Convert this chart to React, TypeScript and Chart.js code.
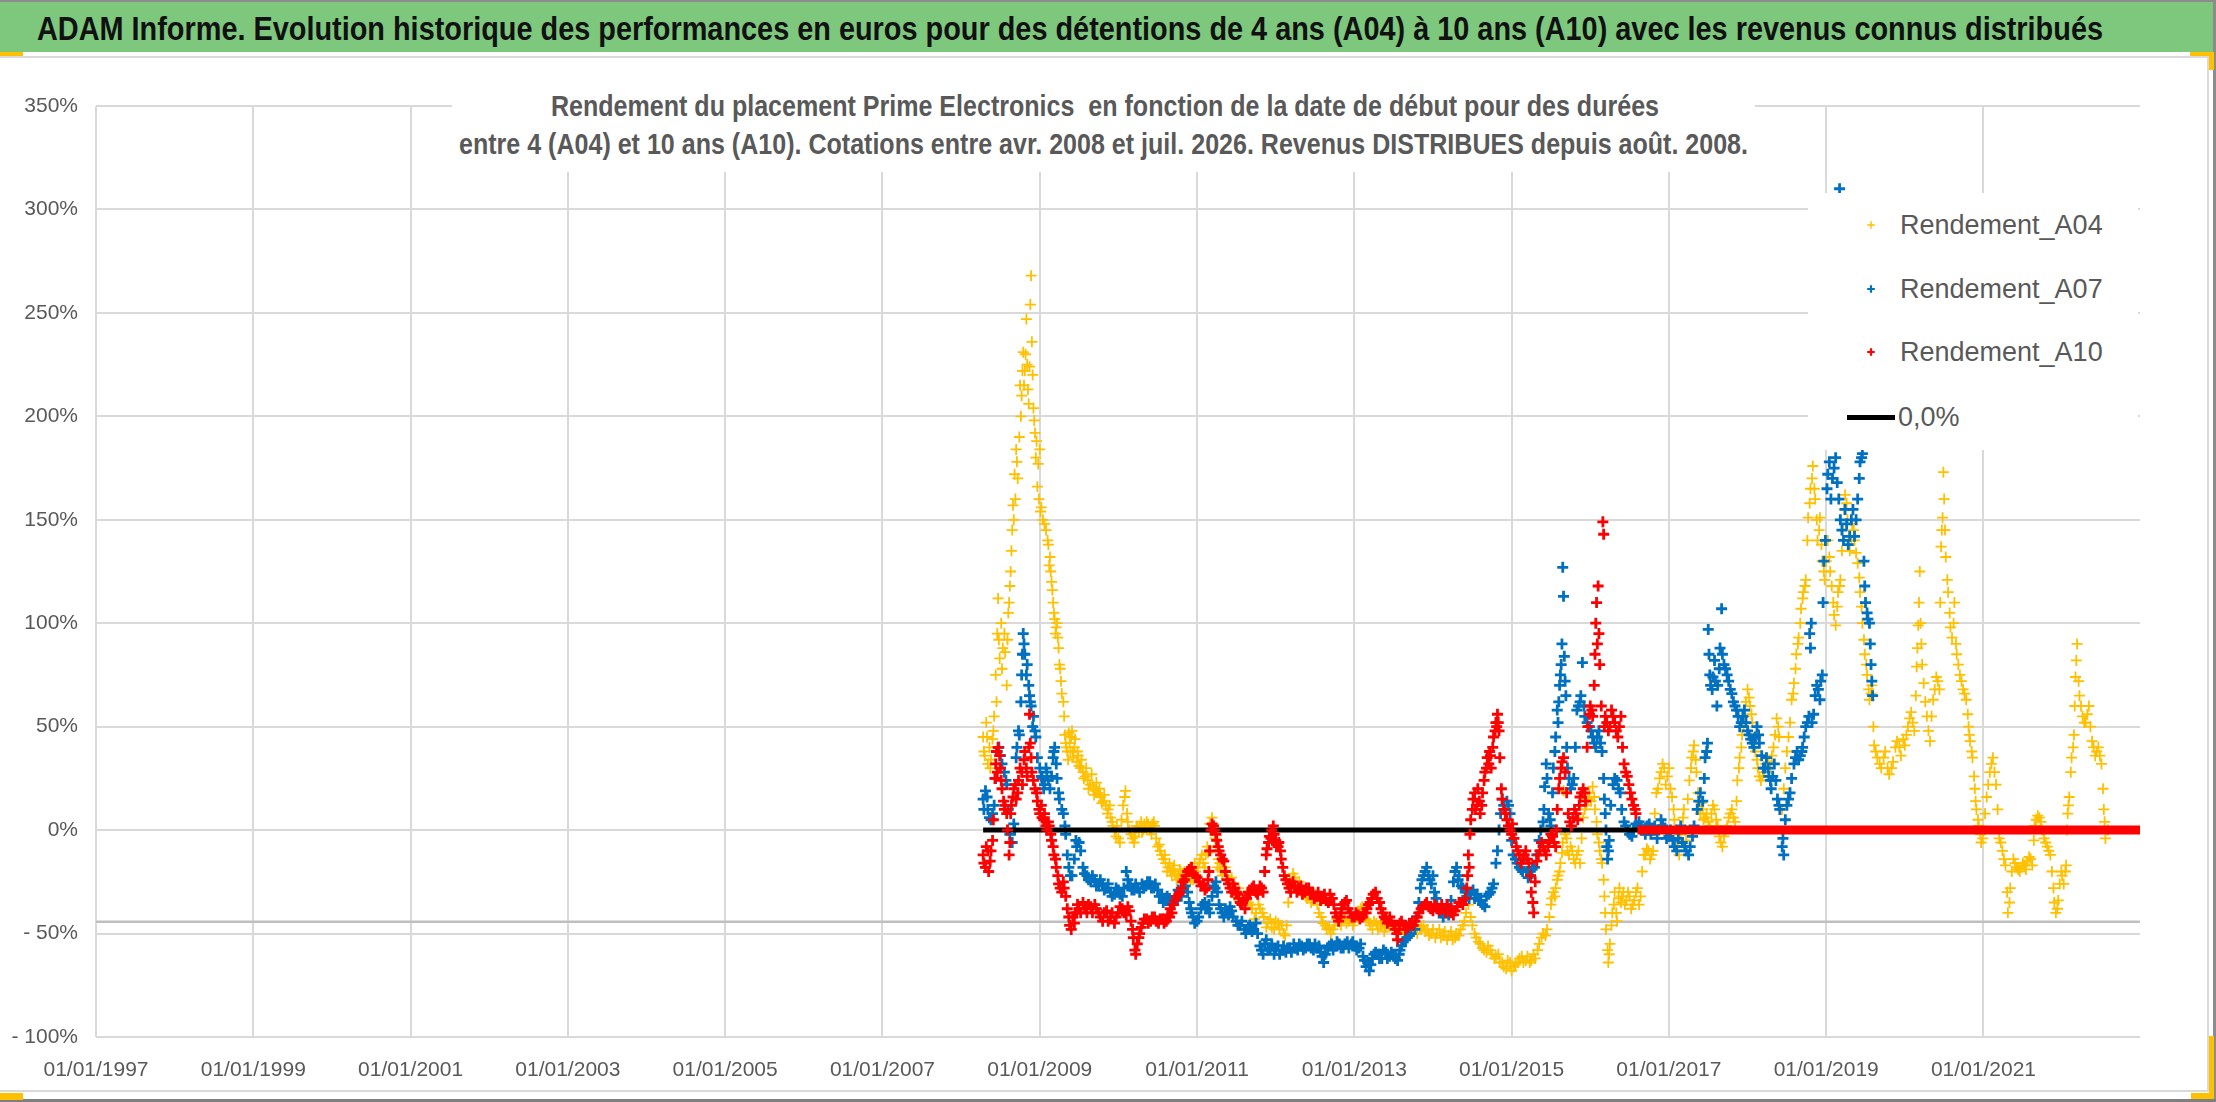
import React, { useEffect, useLayoutEffect, useRef } from 'react';
import { Chart, registerables } from 'chart.js';

Chart.register(...registerables);

// axis
const xTickYears = [1997, 1999, 2001, 2003, 2005, 2007, 2009, 2011, 2013, 2015, 2017, 2019, 2021];
const xMin = 1997;
const xMax = 2022.99;
const yMin = -100;
const yMax = 350;
const yStep = 50;

// [date as decimal year, return %] (centre of each band)
const rendementA04: [number, number][] = [
  [2008.28, 45], [2008.3, 36], [2008.32, 52], [2008.34, 32], [2008.36, 40], [2008.38, 34], [2008.4, 44],
  [2008.42, 55], [2008.44, 75], [2008.46, 95], [2008.47, 112], [2008.49, 83], [2008.51, 100], [2008.53, 88],
  [2008.56, 86], [2008.58, 70], [2008.6, 105], [2008.62, 118], [2008.64, 135], [2008.66, 157], [2008.68, 172],
  [2008.7, 184], [2008.72, 170], [2008.75, 215], [2008.77, 210], [2008.79, 231], [2008.81, 222], [2008.83, 247],
  [2008.85, 213], [2008.87, 224], [2008.88, 254], [2008.89, 268], [2008.9, 236], [2008.92, 204], [2008.94, 192],
  [2008.96, 188], [2008.97, 166], [2008.98, 177], [2009.0, 184], [2009.01, 154], [2009.04, 150], [2009.08, 145],
  [2009.11, 138], [2009.13, 132], [2009.15, 120], [2009.17, 110], [2009.19, 102], [2009.21, 98], [2009.23, 93],
  [2009.25, 80], [2009.27, 72], [2009.3, 62], [2009.32, 46], [2009.34, 40], [2009.36, 34], [2009.38, 42],
  [2009.4, 45], [2009.42, 38], [2009.44, 40], [2009.47, 33], [2009.49, 36], [2009.52, 30], [2009.55, 28],
  [2009.58, 26], [2009.61, 24], [2009.64, 22], [2009.68, 21], [2009.71, 19], [2009.74, 18], [2009.77, 16],
  [2009.81, 14], [2009.84, 12], [2009.87, 10], [2009.9, 6], [2009.93, 2], [2009.97, -3], [2010.0, -4],
  [2010.04, 5], [2010.08, 16], [2010.11, 8], [2010.14, 0], [2010.18, -4], [2010.21, -3], [2010.24, 1],
  [2010.27, 2], [2010.3, -1], [2010.33, 3], [2010.36, 4], [2010.4, 0], [2010.43, 3], [2010.46, 2],
  [2010.5, -8], [2010.53, -10], [2010.57, -14], [2010.6, -16], [2010.63, -18], [2010.66, -20], [2010.69, -19],
  [2010.72, -21], [2010.76, -22], [2010.79, -20], [2010.82, -21], [2010.85, -23], [2010.89, -23], [2010.92, -24],
  [2010.95, -24], [2010.98, -20], [2011.01, -18], [2011.04, -14], [2011.08, -16], [2011.11, -12], [2011.14, -11],
  [2011.17, 0], [2011.19, 6], [2011.21, 2], [2011.24, -8], [2011.27, -14], [2011.3, -19], [2011.34, -20],
  [2011.38, -22], [2011.42, -25], [2011.46, -28], [2011.5, -30], [2011.55, -32], [2011.6, -33], [2011.65, -35],
  [2011.7, -38], [2011.75, -40], [2011.8, -38], [2011.85, -42], [2011.9, -45], [2011.95, -47], [2012.0, -44],
  [2012.05, -48], [2012.1, -50], [2012.14, -46], [2012.18, -24], [2012.22, -21], [2012.26, -26], [2012.3, -25],
  [2012.35, -30], [2012.4, -33], [2012.45, -35], [2012.5, -31], [2012.55, -40], [2012.6, -45], [2012.65, -48],
  [2012.7, -50], [2012.75, -46], [2012.8, -44], [2012.85, -43], [2012.9, -45], [2012.95, -42], [2013.0, -44],
  [2013.05, -40], [2013.1, -37], [2013.15, -43], [2013.2, -46], [2013.25, -44], [2013.3, -48], [2013.35, -45],
  [2013.4, -47], [2013.45, -46], [2013.5, -48], [2013.55, -50], [2013.6, -47], [2013.65, -49], [2013.7, -46],
  [2013.75, -48], [2013.8, -50], [2013.85, -47], [2013.9, -49], [2013.95, -51], [2014.0, -48], [2014.05, -50],
  [2014.1, -52], [2014.15, -49], [2014.2, -51], [2014.25, -53], [2014.3, -50], [2014.35, -48], [2014.4, -44],
  [2014.45, -36], [2014.5, -46], [2014.55, -52], [2014.6, -55], [2014.65, -58], [2014.7, -56], [2014.75, -60],
  [2014.8, -61], [2014.85, -64], [2014.9, -66], [2014.95, -63], [2015.0, -68], [2015.05, -65], [2015.1, -62],
  [2015.15, -64], [2015.2, -61], [2015.25, -63], [2015.3, -62], [2015.35, -55], [2015.4, -50], [2015.45, -48],
  [2015.5, -36], [2015.53, -30], [2015.56, -28], [2015.59, -22], [2015.62, -16], [2015.65, -6], [2015.66, 19],
  [2015.68, -2], [2015.71, -10], [2015.75, -8], [2015.79, -14], [2015.83, -12], [2015.87, -16], [2015.91, 6],
  [2015.95, 12], [2015.99, 18], [2016.03, 21], [2016.06, 10], [2016.09, -2], [2016.12, -10], [2016.15, -16],
  [2016.18, -32], [2016.2, -48], [2016.23, -64], [2016.25, -55], [2016.28, -40], [2016.31, -30], [2016.34, -44],
  [2016.37, -28], [2016.4, -32], [2016.44, -36], [2016.48, -30], [2016.52, -38], [2016.56, -34], [2016.6, -28],
  [2016.64, -32], [2016.68, -12], [2016.72, -9], [2016.76, -14], [2016.8, -10], [2016.84, 18], [2016.88, 25],
  [2016.92, 32], [2016.96, 22], [2017.0, 30], [2017.04, 16], [2017.07, 5], [2017.1, -8], [2017.13, -12],
  [2017.16, 2], [2017.19, 10], [2017.22, -5], [2017.26, 24], [2017.29, 35], [2017.32, 41], [2017.35, 28],
  [2017.38, 10], [2017.41, 13], [2017.44, 5], [2017.48, 8], [2017.52, 2], [2017.56, 12], [2017.6, 5],
  [2017.64, -3], [2017.68, -8], [2017.72, 0], [2017.76, 6], [2017.8, 10], [2017.84, 4], [2017.87, 24],
  [2017.9, 35], [2017.93, 46], [2017.96, 55], [2018.0, 68], [2018.03, 60], [2018.06, 52], [2018.1, 38],
  [2018.13, 30], [2018.17, 24], [2018.21, 28], [2018.25, 35], [2018.29, 30], [2018.33, 40], [2018.37, 54],
  [2018.4, 45], [2018.44, 10], [2018.48, 30], [2018.52, 45], [2018.56, 63], [2018.59, 71], [2018.62, 85],
  [2018.65, 93], [2018.68, 107], [2018.71, 115], [2018.74, 121], [2018.77, 151], [2018.8, 165], [2018.83, 176],
  [2018.86, 160], [2018.89, 140], [2018.92, 151], [2018.95, 130], [2018.98, 121], [2019.02, 140], [2019.05, 125],
  [2019.09, 110], [2019.12, 99], [2019.15, 115], [2019.18, 121], [2019.21, 145], [2019.24, 162], [2019.27, 150],
  [2019.3, 135], [2019.33, 148], [2019.36, 140], [2019.4, 129], [2019.43, 115], [2019.46, 100], [2019.49, 85],
  [2019.52, 75], [2019.55, 63], [2019.58, 70], [2019.61, 41], [2019.65, 35], [2019.7, 30], [2019.75, 38],
  [2019.8, 27], [2019.85, 33], [2019.9, 43], [2019.95, 36], [2020.0, 41], [2020.04, 50], [2020.08, 57],
  [2020.12, 48], [2020.15, 79], [2020.17, 99], [2020.19, 125], [2020.21, 90], [2020.24, 71], [2020.28, 55],
  [2020.32, 43], [2020.36, 63], [2020.4, 74], [2020.44, 68], [2020.46, 137], [2020.48, 151], [2020.49, 173],
  [2020.51, 145], [2020.54, 121], [2020.57, 105], [2020.6, 93], [2020.63, 110], [2020.66, 85], [2020.7, 75],
  [2020.74, 68], [2020.78, 63], [2020.81, 50], [2020.83, 43], [2020.86, 35], [2020.89, 20], [2020.91, 10],
  [2020.94, 2], [2020.97, -6], [2021.0, 0], [2021.04, 16], [2021.08, 28], [2021.12, 35], [2021.16, 22],
  [2021.2, -4], [2021.24, -10], [2021.28, -17], [2021.31, -40], [2021.34, -28], [2021.38, -14], [2021.42, -18],
  [2021.46, -20], [2021.5, -16], [2021.54, -19], [2021.58, -13], [2021.62, -17], [2021.65, 2], [2021.69, 7],
  [2021.73, 4], [2021.77, -4], [2021.81, -8], [2021.85, -12], [2021.89, -28], [2021.92, -40], [2021.95, -34],
  [2021.99, -20], [2022.02, -26], [2022.05, -17], [2022.07, 8], [2022.09, 16], [2022.12, 35], [2022.15, 46],
  [2022.17, 74], [2022.19, 90], [2022.22, 65], [2022.26, 55], [2022.3, 52], [2022.34, 60], [2022.38, 43],
  [2022.42, 36], [2022.46, 40], [2022.5, 32], [2022.53, 10], [2022.55, -4], [2022.58, 0],
];

// other edge of the A04 band
const rendementA04Band: [number, number][] = [
  [2008.29, 38], [2008.33, 45], [2008.37, 30], [2008.41, 48], [2008.45, 62], [2008.48, 92], [2008.52, 78],
  [2008.55, 95], [2008.59, 92], [2008.61, 110], [2008.63, 125], [2008.65, 145], [2008.67, 150], [2008.69, 160],
  [2008.71, 178], [2008.74, 190], [2008.76, 200], [2008.78, 222], [2008.8, 215], [2008.82, 230], [2008.84, 225],
  [2008.86, 206], [2008.91, 220], [2008.93, 198], [2008.95, 180], [2008.99, 160], [2009.02, 156], [2009.06, 148],
  [2009.1, 140], [2009.12, 128], [2009.14, 125], [2009.16, 116], [2009.18, 105], [2009.2, 95], [2009.22, 100],
  [2009.24, 88], [2009.26, 78], [2009.28, 66], [2009.31, 55], [2009.33, 42], [2009.35, 38], [2009.37, 47],
  [2009.39, 38], [2009.41, 48], [2009.43, 35], [2009.45, 44], [2009.48, 38], [2009.5, 31], [2009.53, 34],
  [2009.56, 25], [2009.59, 30], [2009.62, 20], [2009.66, 27], [2009.69, 17], [2009.72, 23], [2009.76, 20],
  [2009.79, 13], [2009.82, 17], [2009.86, 8], [2009.89, 12], [2009.92, 4], [2009.95, 0], [2009.98, 2],
  [2010.02, -6], [2010.06, 12], [2010.09, 19], [2010.12, 4], [2010.16, -2], [2010.2, -6], [2010.23, 2],
  [2010.26, -1], [2010.29, 4], [2010.32, 0], [2010.35, 1], [2010.38, 3], [2010.42, -2], [2010.45, 4],
  [2010.48, -4], [2010.52, -7], [2010.55, -12], [2010.59, -12], [2010.62, -20], [2010.65, -16], [2010.68, -22],
  [2010.71, -17], [2010.74, -24], [2010.78, -19], [2010.81, -24], [2010.84, -20], [2010.87, -25], [2010.91, -21],
  [2010.94, -22], [2010.97, -16], [2011.0, -22], [2011.03, -16], [2011.06, -12], [2011.1, -18], [2011.13, -8],
  [2011.16, 3], [2011.2, 3], [2011.23, -4], [2011.26, -18], [2011.29, -16], [2011.32, -22], [2011.36, -18],
  [2011.4, -26], [2011.44, -23], [2011.48, -32], [2011.53, -28], [2011.58, -36], [2011.63, -31], [2011.68, -36],
  [2011.73, -43], [2011.78, -36], [2011.83, -40], [2011.88, -47], [2011.93, -43], [2011.98, -48], [2012.03, -45],
  [2012.08, -46], [2012.12, -51], [2012.16, -35], [2012.2, -27], [2012.24, -23], [2012.28, -28], [2012.33, -27],
  [2012.38, -32], [2012.43, -30], [2012.48, -34], [2012.53, -36], [2012.58, -42], [2012.63, -46], [2012.68, -47],
  [2012.73, -48], [2012.78, -43], [2012.83, -46], [2012.88, -42], [2012.93, -44], [2012.98, -46], [2013.03, -42],
  [2013.08, -38], [2013.13, -40], [2013.18, -44], [2013.23, -48], [2013.28, -45], [2013.33, -46], [2013.38, -49],
  [2013.43, -44], [2013.48, -46], [2013.53, -47], [2013.58, -45], [2013.63, -50], [2013.68, -48], [2013.73, -50],
  [2013.78, -46], [2013.83, -48], [2013.88, -46], [2013.93, -48], [2013.98, -50], [2014.03, -52], [2014.08, -48],
  [2014.13, -51], [2014.18, -53], [2014.23, -49], [2014.28, -52], [2014.33, -51], [2014.38, -46], [2014.42, -40],
  [2014.48, -42], [2014.53, -50], [2014.58, -54], [2014.63, -57], [2014.68, -59], [2014.73, -58], [2014.78, -62],
  [2014.83, -60], [2014.88, -64], [2014.93, -67], [2014.98, -64], [2015.03, -66], [2015.08, -64], [2015.13, -61],
  [2015.18, -63], [2015.23, -64], [2015.28, -60], [2015.33, -58], [2015.38, -52], [2015.43, -51], [2015.48, -42],
  [2015.51, -33], [2015.55, -32], [2015.58, -24], [2015.61, -20], [2015.64, -11], [2015.7, -4], [2015.73, -12],
  [2015.77, -10], [2015.81, -16], [2015.85, -10], [2015.89, -4], [2015.93, 10], [2015.97, 15], [2016.01, 14],
  [2016.05, 16], [2016.08, 4], [2016.11, -6], [2016.14, -14], [2016.17, -24], [2016.19, -40], [2016.22, -58],
  [2016.24, -60], [2016.27, -46], [2016.3, -36], [2016.33, -40], [2016.36, -33], [2016.39, -35], [2016.42, -30],
  [2016.46, -34], [2016.5, -32], [2016.54, -36], [2016.58, -30], [2016.62, -36], [2016.66, -20], [2016.7, -12],
  [2016.74, -10], [2016.78, -12], [2016.82, 8], [2016.86, 20], [2016.9, 28], [2016.94, 30], [2016.98, 26],
  [2017.02, 20], [2017.06, 10], [2017.09, 0], [2017.12, -5], [2017.15, -2], [2017.18, 6], [2017.21, 0],
  [2017.24, 15], [2017.28, 30], [2017.31, 38], [2017.34, 34], [2017.37, 18], [2017.4, 8], [2017.43, 10],
  [2017.46, 6], [2017.5, 4], [2017.54, 8], [2017.58, 10], [2017.62, 2], [2017.66, -6], [2017.7, -3],
  [2017.74, 2], [2017.78, 8], [2017.82, 6], [2017.86, 14], [2017.89, 30], [2017.92, 40], [2017.95, 50],
  [2017.98, 62], [2018.02, 64], [2018.05, 56], [2018.08, 45], [2018.12, 34], [2018.15, 26], [2018.19, 26],
  [2018.23, 32], [2018.27, 33], [2018.31, 36], [2018.35, 46], [2018.39, 50], [2018.46, 20], [2018.5, 38],
  [2018.54, 52], [2018.58, 66], [2018.61, 78], [2018.64, 90], [2018.67, 100], [2018.7, 112], [2018.73, 118],
  [2018.76, 140], [2018.79, 158], [2018.82, 170], [2018.85, 165], [2018.88, 150], [2018.91, 145], [2018.94, 138],
  [2018.97, 125], [2019.0, 130], [2019.04, 132], [2019.07, 118], [2019.1, 104], [2019.14, 108], [2019.17, 118],
  [2019.2, 135], [2019.23, 155], [2019.26, 158], [2019.29, 142], [2019.32, 140], [2019.35, 145], [2019.38, 134],
  [2019.42, 122], [2019.45, 108], [2019.48, 92], [2019.51, 80], [2019.54, 68], [2019.57, 66], [2019.6, 50],
  [2019.63, 38], [2019.68, 32], [2019.73, 35], [2019.78, 30], [2019.83, 30], [2019.88, 40], [2019.93, 40],
  [2019.98, 44], [2020.02, 46], [2020.06, 54], [2020.1, 52], [2020.14, 65], [2020.16, 88], [2020.18, 110],
  [2020.2, 100], [2020.22, 80], [2020.26, 62], [2020.3, 48], [2020.34, 55], [2020.38, 68], [2020.42, 72],
  [2020.45, 110], [2020.47, 145], [2020.5, 160], [2020.52, 132], [2020.55, 115], [2020.58, 98], [2020.62, 100],
  [2020.65, 90], [2020.68, 80], [2020.72, 72], [2020.76, 66], [2020.8, 56], [2020.82, 46], [2020.85, 38],
  [2020.88, 26], [2020.9, 14], [2020.93, 5], [2020.96, -2], [2020.99, -4], [2021.02, 8], [2021.06, 22],
  [2021.1, 32], [2021.14, 28], [2021.18, 10], [2021.22, -6], [2021.26, -14], [2021.3, -30], [2021.33, -35],
  [2021.36, -20], [2021.4, -16], [2021.44, -19], [2021.48, -18], [2021.52, -17], [2021.56, -15], [2021.6, -14],
  [2021.64, -5], [2021.67, 5], [2021.71, 6], [2021.75, 0], [2021.79, -6], [2021.83, -10], [2021.87, -20],
  [2021.9, -35], [2021.94, -38], [2021.97, -26], [2022.0, -22], [2022.04, -20], [2022.06, 0], [2022.08, 12],
  [2022.11, 28], [2022.14, 40], [2022.16, 60], [2022.18, 82], [2022.21, 72], [2022.24, 60], [2022.28, 52],
  [2022.32, 56], [2022.36, 50], [2022.4, 40], [2022.44, 38], [2022.48, 36], [2022.52, 20], [2022.54, 4],
];

const rendementA07: [number, number][] = [
  [2008.28, 15], [2008.31, 19], [2008.34, 10], [2008.38, 5], [2008.42, 12], [2008.46, 38], [2008.5, 36],
  [2008.55, 28], [2008.58, 22], [2008.62, -2], [2008.65, -6], [2008.68, 0], [2008.71, 40], [2008.74, 46],
  [2008.77, 75], [2008.79, 95], [2008.81, 85], [2008.84, 80], [2008.87, 65], [2008.89, 60], [2008.92, 55],
  [2008.95, 45], [2009.0, 30], [2009.03, 25], [2009.06, 22], [2009.09, 28], [2009.13, 20], [2009.17, 35],
  [2009.19, 40], [2009.22, 25], [2009.25, 15], [2009.3, 8], [2009.33, -2], [2009.37, -18], [2009.41, -22],
  [2009.47, -8], [2009.5, -6], [2009.55, -18], [2009.6, -22], [2009.65, -25], [2009.7, -24], [2009.75, -27],
  [2009.8, -26], [2009.85, -28], [2009.9, -30], [2009.95, -31], [2010.0, -29], [2010.05, -32], [2010.1, -20],
  [2010.15, -27], [2010.2, -29], [2010.25, -28], [2010.3, -26], [2010.35, -27], [2010.4, -25], [2010.45, -28],
  [2010.5, -29], [2010.55, -31], [2010.6, -34], [2010.65, -33], [2010.7, -35], [2010.74, -32], [2010.78, -30],
  [2010.83, -28], [2010.88, -30], [2010.92, -38], [2010.95, -42], [2011.0, -44], [2011.05, -38], [2011.1, -35],
  [2011.13, -38], [2011.16, -40], [2011.21, -27], [2011.24, -25], [2011.28, -36], [2011.32, -40], [2011.36, -38],
  [2011.4, -41], [2011.44, -39], [2011.5, -44], [2011.55, -46], [2011.6, -48], [2011.65, -47], [2011.7, -49],
  [2011.75, -45], [2011.8, -56], [2011.84, -60], [2011.88, -53], [2011.93, -57], [2011.98, -60], [2012.03, -56],
  [2012.08, -58], [2012.13, -59], [2012.18, -57], [2012.23, -55], [2012.28, -58], [2012.33, -56], [2012.38, -57],
  [2012.43, -55], [2012.48, -58], [2012.53, -57], [2012.57, -59], [2012.61, -64], [2012.66, -57], [2012.71, -55],
  [2012.76, -56], [2012.81, -55], [2012.86, -57], [2012.91, -54], [2012.96, -55], [2013.01, -56], [2013.06, -57],
  [2013.11, -61], [2013.15, -66], [2013.19, -68], [2013.23, -62], [2013.27, -59], [2013.3, -60], [2013.35, -62],
  [2013.4, -59], [2013.45, -61], [2013.5, -60], [2013.55, -63], [2013.58, -58], [2013.62, -54], [2013.67, -52],
  [2013.72, -50], [2013.77, -48], [2013.82, -35], [2013.86, -24], [2013.9, -20], [2013.94, -22], [2013.98, -26],
  [2014.02, -30], [2014.05, -36], [2014.1, -40], [2014.15, -38], [2014.2, -41], [2014.23, -34], [2014.26, -25],
  [2014.3, -18], [2014.33, -22], [2014.38, -28], [2014.43, -32], [2014.48, -30], [2014.53, -33], [2014.58, -34],
  [2014.63, -36], [2014.68, -32], [2014.73, -30], [2014.77, -26], [2014.82, -10], [2014.86, 8], [2014.9, 12],
  [2014.94, 14], [2014.98, 8], [2015.02, -12], [2015.07, -16], [2015.12, -19], [2015.16, -14], [2015.19, -20],
  [2015.24, -22], [2015.29, -18], [2015.35, -5], [2015.4, 4], [2015.42, 21], [2015.44, 32], [2015.47, 8],
  [2015.5, 2], [2015.53, 30], [2015.56, 45], [2015.59, 52], [2015.61, 70], [2015.63, 80], [2015.65, 127],
  [2015.66, 113], [2015.67, 84], [2015.69, 65], [2015.71, 30], [2015.75, 20], [2015.79, 25], [2015.83, 58],
  [2015.87, 62], [2015.9, 81], [2015.93, 55], [2015.99, 50], [2016.03, 45], [2016.07, 40], [2016.11, 48],
  [2016.15, 38], [2016.18, 15], [2016.2, 0], [2016.22, -14], [2016.24, -5], [2016.29, 22], [2016.34, 24],
  [2016.38, 18], [2016.43, 4], [2016.48, 0], [2016.53, -3], [2016.58, 3], [2016.65, 2], [2016.7, -2],
  [2016.75, 3], [2016.8, 0], [2016.85, -4], [2016.9, 5], [2016.95, 1], [2017.0, -3], [2017.05, -5],
  [2017.1, -10], [2017.15, 2], [2017.2, -8], [2017.25, -12], [2017.3, -3], [2017.36, 10], [2017.4, 18],
  [2017.43, 14], [2017.46, 35], [2017.49, 42], [2017.5, 97], [2017.52, 75], [2017.55, 68], [2017.58, 82],
  [2017.61, 60], [2017.64, 78], [2017.67, 107], [2017.68, 85], [2017.72, 78], [2017.76, 72], [2017.8, 66],
  [2017.84, 60], [2017.88, 55], [2017.92, 52], [2017.96, 58], [2018.0, 48], [2018.04, 44], [2018.08, 40],
  [2018.12, 50], [2018.15, 42], [2018.2, 30], [2018.24, 35], [2018.27, 26], [2018.3, 20], [2018.34, 32],
  [2018.38, 15], [2018.41, 10], [2018.44, -8], [2018.46, -12], [2018.5, 12], [2018.54, 18], [2018.59, 32],
  [2018.63, 38], [2018.67, 36], [2018.7, 40], [2018.74, 50], [2018.78, 55], [2018.79, 95], [2018.81, 100],
  [2018.82, 52], [2018.88, 70], [2018.92, 63], [2018.95, 75], [2018.97, 130], [2019.01, 165], [2019.04, 178],
  [2019.08, 170], [2019.12, 180], [2019.16, 160], [2019.17, 310], [2019.2, 145], [2019.24, 155], [2019.28, 138],
  [2019.32, 150], [2019.36, 142], [2019.4, 160], [2019.43, 178], [2019.46, 182], [2019.49, 118], [2019.52, 105],
  [2019.55, 100], [2019.57, 80], [2019.59, 65],
];

// other edge of the A07 band
const rendementA07Band: [number, number][] = [
  [2008.29, 10], [2008.33, 16], [2008.36, 6], [2008.4, 8], [2008.44, 25], [2008.48, 40], [2008.52, 32],
  [2008.57, 24], [2008.6, 10], [2008.63, -6], [2008.67, 3], [2008.7, 35], [2008.73, 48], [2008.76, 62],
  [2008.78, 85], [2008.8, 90], [2008.83, 75], [2008.86, 70], [2008.88, 62], [2008.91, 50], [2008.94, 48],
  [2008.97, 35], [2009.02, 26], [2009.05, 20], [2009.08, 30], [2009.11, 24], [2009.15, 26], [2009.18, 38],
  [2009.21, 32], [2009.24, 18], [2009.28, 10], [2009.32, 2], [2009.35, -12], [2009.39, -22], [2009.44, -14],
  [2009.46, -5], [2009.52, -10], [2009.57, -21], [2009.62, -24], [2009.67, -22], [2009.72, -27], [2009.77, -24],
  [2009.82, -29], [2009.87, -26], [2009.92, -32], [2009.97, -28], [2010.02, -31], [2010.07, -28], [2010.12, -24],
  [2010.17, -29], [2010.22, -26], [2010.27, -30], [2010.32, -28], [2010.37, -25], [2010.42, -28], [2010.47, -26],
  [2010.52, -32], [2010.57, -35], [2010.62, -32], [2010.67, -36], [2010.72, -33], [2010.76, -29], [2010.8, -32],
  [2010.85, -27], [2010.9, -35], [2010.93, -40], [2010.97, -45], [2011.02, -42], [2011.07, -36], [2011.11, -38],
  [2011.15, -36], [2011.19, -32], [2011.23, -28], [2011.26, -30], [2011.3, -38], [2011.34, -42], [2011.38, -40],
  [2011.42, -37], [2011.46, -42], [2011.52, -46], [2011.57, -44], [2011.62, -50], [2011.67, -46], [2011.72, -48],
  [2011.77, -50], [2011.82, -58], [2011.86, -55], [2011.9, -58], [2011.95, -55], [2012.0, -58], [2012.05, -60],
  [2012.1, -56], [2012.15, -57], [2012.2, -59], [2012.25, -57], [2012.3, -55], [2012.35, -58], [2012.4, -55],
  [2012.45, -57], [2012.5, -55], [2012.55, -56], [2012.59, -61], [2012.63, -60], [2012.68, -56], [2012.73, -58],
  [2012.78, -54], [2012.83, -57], [2012.88, -55], [2012.93, -57], [2012.98, -54], [2013.03, -58], [2013.08, -55],
  [2013.13, -63], [2013.17, -64], [2013.21, -65], [2013.25, -60], [2013.32, -62], [2013.37, -58], [2013.42, -62],
  [2013.47, -59], [2013.52, -62], [2013.57, -60], [2013.6, -56], [2013.65, -53], [2013.7, -51], [2013.74, -46],
  [2013.79, -42], [2013.84, -28], [2013.88, -22], [2013.92, -18], [2013.96, -24], [2014.0, -22], [2014.04, -33],
  [2014.08, -38], [2014.13, -42], [2014.18, -37], [2014.22, -38], [2014.28, -20], [2014.32, -24], [2014.36, -27],
  [2014.41, -30], [2014.46, -33], [2014.51, -29], [2014.56, -31], [2014.61, -34], [2014.66, -37], [2014.71, -31],
  [2014.75, -28], [2014.8, -16], [2014.84, 0], [2014.88, 15], [2014.92, 10], [2014.96, 12], [2015.0, -5],
  [2015.05, -14], [2015.1, -18], [2015.14, -20], [2015.21, -23], [2015.26, -19], [2015.32, -12], [2015.37, 0],
  [2015.41, 10], [2015.45, 25], [2015.49, 5], [2015.52, 18], [2015.55, 38], [2015.58, 58], [2015.6, 62],
  [2015.62, 75], [2015.64, 90], [2015.68, 72], [2015.7, 40], [2015.73, 25], [2015.77, 22], [2015.81, 40],
  [2015.85, 60], [2015.88, 65], [2015.92, 60], [2015.96, 52], [2016.01, 48], [2016.05, 42], [2016.09, 45],
  [2016.13, 42], [2016.17, 25], [2016.19, 8], [2016.21, -8], [2016.23, -10], [2016.26, 12], [2016.31, 25],
  [2016.36, 20], [2016.4, 10], [2016.45, 2], [2016.5, -2], [2016.55, 0], [2016.62, 4], [2016.67, 0],
  [2016.72, 2], [2016.77, -2], [2016.82, 2], [2016.87, 0], [2016.92, 2], [2016.97, -4], [2017.02, 0],
  [2017.07, -8], [2017.12, -4], [2017.17, -6], [2017.22, -10], [2017.27, -8], [2017.32, 2], [2017.38, 14],
  [2017.45, 25], [2017.48, 38], [2017.51, 85], [2017.53, 70], [2017.56, 74], [2017.59, 72], [2017.62, 70],
  [2017.65, 88], [2017.7, 80], [2017.74, 75], [2017.78, 68], [2017.82, 62], [2017.86, 58], [2017.9, 50],
  [2017.94, 55], [2017.98, 52], [2018.02, 46], [2018.06, 42], [2018.1, 45], [2018.14, 46], [2018.18, 36],
  [2018.22, 30], [2018.26, 30], [2018.29, 24], [2018.32, 26], [2018.36, 24], [2018.4, 12], [2018.45, -4],
  [2018.48, 5], [2018.52, 15], [2018.56, 25], [2018.61, 35], [2018.65, 34], [2018.69, 38], [2018.72, 45],
  [2018.76, 52], [2018.8, 88], [2018.84, 56], [2018.86, 65], [2018.9, 68], [2018.93, 72], [2018.96, 110],
  [2018.99, 140], [2019.02, 172], [2019.06, 160], [2019.1, 175], [2019.14, 168], [2019.18, 150], [2019.22, 140],
  [2019.26, 148], [2019.3, 142], [2019.34, 155], [2019.38, 150], [2019.42, 170], [2019.45, 180], [2019.48, 130],
  [2019.5, 110], [2019.53, 102], [2019.56, 90], [2019.58, 72],
];

const rendementA10: [number, number][] = [
  [2008.28, -12], [2008.31, -18], [2008.34, -10], [2008.37, -15], [2008.4, -5], [2008.43, 25], [2008.45, 38],
  [2008.47, 40], [2008.5, 30], [2008.52, 20], [2008.55, 10], [2008.58, 8], [2008.61, -12], [2008.64, 12],
  [2008.67, 20], [2008.7, 15], [2008.73, 24], [2008.77, 28], [2008.8, 34], [2008.83, 30], [2008.86, 40],
  [2008.87, 56], [2008.89, 35], [2008.92, 24], [2008.96, 18], [2008.99, 10], [2009.02, 12], [2009.05, 5],
  [2009.08, 2], [2009.11, 4], [2009.14, -2], [2009.17, -8], [2009.2, -14], [2009.23, -22], [2009.26, -28],
  [2009.3, -25], [2009.33, -32], [2009.37, -42], [2009.4, -48], [2009.44, -45], [2009.47, -40], [2009.5, -38],
  [2009.55, -35], [2009.6, -40], [2009.65, -37], [2009.7, -36], [2009.75, -40], [2009.8, -44], [2009.85, -39],
  [2009.9, -42], [2009.95, -45], [2010.0, -40], [2010.05, -38], [2010.1, -41], [2010.14, -39], [2010.18, -48],
  [2010.21, -58], [2010.24, -55], [2010.27, -50], [2010.31, -45], [2010.36, -43], [2010.41, -44], [2010.46, -42],
  [2010.51, -45], [2010.56, -43], [2010.61, -44], [2010.65, -42], [2010.68, -40], [2010.72, -34], [2010.77, -31],
  [2010.8, -28], [2010.84, -24], [2010.88, -20], [2010.93, -18], [2010.98, -22], [2011.03, -25], [2011.08, -26],
  [2011.12, -28], [2011.15, -20], [2011.18, 0], [2011.21, 2], [2011.24, -2], [2011.27, -8], [2011.3, -12],
  [2011.34, -15], [2011.38, -24], [2011.42, -28], [2011.46, -26], [2011.5, -30], [2011.53, -33], [2011.57, -36],
  [2011.61, -38], [2011.65, -30], [2011.7, -28], [2011.75, -30], [2011.8, -27], [2011.84, -30], [2011.88, -12],
  [2011.91, -6], [2011.94, -4], [2011.97, 2], [2012.0, -5], [2012.03, -8], [2012.06, -10], [2012.09, -18],
  [2012.13, -24], [2012.17, -28], [2012.22, -25], [2012.27, -30], [2012.32, -27], [2012.37, -30], [2012.42, -28],
  [2012.47, -30], [2012.52, -32], [2012.57, -34], [2012.62, -31], [2012.67, -35], [2012.72, -33], [2012.76, -40],
  [2012.8, -44], [2012.83, -40], [2012.86, -36], [2012.9, -34], [2012.95, -40], [2013.0, -42], [2013.05, -41],
  [2013.1, -42], [2013.15, -40], [2013.18, -36], [2013.22, -33], [2013.27, -30], [2013.32, -35], [2013.36, -40],
  [2013.4, -43], [2013.45, -42], [2013.5, -46], [2013.55, -53], [2013.58, -45], [2013.63, -46], [2013.68, -47],
  [2013.73, -45], [2013.77, -44], [2013.82, -40], [2013.87, -37], [2013.92, -35], [2013.97, -38], [2014.02, -36],
  [2014.06, -38], [2014.11, -36], [2014.16, -40], [2014.21, -38], [2014.26, -41], [2014.31, -37], [2014.36, -35],
  [2014.41, -33], [2014.44, -22], [2014.46, -18], [2014.48, 5], [2014.51, 15], [2014.54, 10], [2014.57, 20],
  [2014.6, 8], [2014.63, 18], [2014.66, 28], [2014.69, 35], [2014.72, 38], [2014.74, 30], [2014.77, 45],
  [2014.8, 52], [2014.82, 56], [2014.84, 48], [2014.87, 20], [2014.9, 10], [2014.94, 5], [2014.98, 0],
  [2015.01, 3], [2015.06, -8], [2015.1, -12], [2015.14, -14], [2015.18, -10], [2015.22, -16], [2015.25, -30],
  [2015.28, -40], [2015.32, -15], [2015.36, -10], [2015.4, -8], [2015.44, -12], [2015.48, -5], [2015.52, -3],
  [2015.56, -8], [2015.58, 10], [2015.61, 25], [2015.64, 33], [2015.68, 28], [2015.72, 8], [2015.76, 2],
  [2015.8, 10], [2015.84, 5], [2015.87, 16], [2015.91, 20], [2015.94, 14], [2015.97, 50], [2016.0, 60],
  [2016.03, 55], [2016.06, 85], [2016.08, 110], [2016.1, 118], [2016.11, 95], [2016.16, 149], [2016.17, 143],
  [2016.19, 55], [2016.23, 48], [2016.27, 58], [2016.31, 52], [2016.35, 45], [2016.39, 55], [2016.43, 32],
  [2016.47, 26], [2016.51, 18], [2016.55, 12], [2016.58, 8],
];

// other edge of the A10 band
const rendementA10Band: [number, number][] = [
  [2008.29, -16], [2008.32, -8], [2008.35, -20], [2008.38, -10], [2008.41, 5], [2008.44, 32], [2008.46, 28],
  [2008.49, 36], [2008.51, 24], [2008.54, 14], [2008.56, 12], [2008.59, 0], [2008.62, -6], [2008.63, 8],
  [2008.66, 16], [2008.69, 22], [2008.72, 18], [2008.75, 30], [2008.78, 22], [2008.81, 38], [2008.84, 26],
  [2008.88, 42], [2008.9, 28], [2008.94, 20], [2008.97, 14], [2009.0, 8], [2009.03, 6], [2009.06, 8],
  [2009.09, 0], [2009.12, 2], [2009.15, -5], [2009.18, -12], [2009.21, -18], [2009.24, -26], [2009.28, -30],
  [2009.31, -28], [2009.35, -38], [2009.38, -46], [2009.42, -42], [2009.45, -40], [2009.48, -36], [2009.52, -40],
  [2009.57, -38], [2009.62, -36], [2009.67, -40], [2009.72, -38], [2009.77, -42], [2009.82, -40], [2009.87, -44],
  [2009.92, -40], [2009.97, -42], [2010.02, -37], [2010.07, -40], [2010.12, -37], [2010.16, -44], [2010.19, -52],
  [2010.22, -60], [2010.26, -52], [2010.29, -47], [2010.33, -43], [2010.38, -45], [2010.43, -42], [2010.48, -44],
  [2010.53, -43], [2010.58, -45], [2010.63, -41], [2010.66, -38], [2010.7, -36], [2010.74, -32], [2010.78, -30],
  [2010.82, -25], [2010.86, -22], [2010.9, -19], [2010.95, -21], [2011.0, -23], [2011.05, -27], [2011.1, -29],
  [2011.14, -24], [2011.16, -10], [2011.19, 3], [2011.22, 0], [2011.25, -5], [2011.28, -10], [2011.32, -14],
  [2011.36, -20], [2011.4, -26], [2011.44, -30], [2011.48, -28], [2011.52, -31], [2011.55, -35], [2011.59, -34],
  [2011.63, -33], [2011.67, -31], [2011.72, -27], [2011.77, -31], [2011.82, -28], [2011.86, -20], [2011.89, -9],
  [2011.92, -3], [2011.95, 0], [2011.98, -2], [2012.01, -7], [2012.04, -6], [2012.07, -14], [2012.11, -22],
  [2012.15, -26], [2012.19, -30], [2012.24, -27], [2012.29, -28], [2012.34, -31], [2012.39, -28], [2012.44, -31],
  [2012.49, -33], [2012.54, -30], [2012.59, -33], [2012.64, -34], [2012.69, -31], [2012.74, -36], [2012.78, -42],
  [2012.82, -42], [2012.84, -38], [2012.88, -35], [2012.92, -38], [2012.97, -42], [2013.02, -40], [2013.07, -43],
  [2013.12, -40], [2013.16, -38], [2013.2, -35], [2013.24, -31], [2013.29, -33], [2013.34, -38], [2013.38, -42],
  [2013.42, -45], [2013.47, -44], [2013.52, -48], [2013.54, -50], [2013.57, -48], [2013.6, -44], [2013.65, -48],
  [2013.7, -45], [2013.75, -46], [2013.8, -42], [2013.85, -38], [2013.9, -36], [2013.95, -37], [2014.0, -39],
  [2014.04, -37], [2014.08, -39], [2014.13, -38], [2014.18, -36], [2014.23, -40], [2014.28, -39], [2014.33, -35],
  [2014.38, -36], [2014.43, -28], [2014.45, -12], [2014.47, -2], [2014.5, 10], [2014.53, 18], [2014.56, 12],
  [2014.59, 14], [2014.62, 12], [2014.65, 24], [2014.68, 30], [2014.71, 32], [2014.73, 36], [2014.76, 40],
  [2014.79, 48], [2014.81, 50], [2014.83, 52], [2014.85, 35], [2014.88, 15], [2014.92, 8], [2014.96, 2],
  [2015.0, -2], [2015.03, -4], [2015.08, -10], [2015.12, -16], [2015.16, -12], [2015.2, -14], [2015.24, -22],
  [2015.27, -35], [2015.3, -25], [2015.34, -12], [2015.38, -6], [2015.42, -10], [2015.46, -8], [2015.5, -2],
  [2015.54, -6], [2015.57, 0], [2015.6, 20], [2015.63, 30], [2015.66, 35], [2015.7, 18], [2015.74, 4],
  [2015.78, 6], [2015.82, 8], [2015.86, 12], [2015.89, 18], [2015.93, 18], [2015.96, 40], [2015.99, 56],
  [2016.02, 58], [2016.05, 70], [2016.07, 100], [2016.09, 90], [2016.12, 80], [2016.14, 60], [2016.18, 50],
  [2016.21, 52], [2016.25, 50], [2016.29, 55], [2016.33, 48], [2016.37, 50], [2016.41, 40], [2016.45, 28],
  [2016.49, 22], [2016.53, 15], [2016.57, 10],
];

// A10 sits flat on 0% from mid-2016 to the last date
const rendementA10Flat: [number, number][] = [[2016.6, 0], [2023.0, 0]];
const zeroLevel: [number, number][] = [[2008.28, 0], [2023.0, 0]];
// grey horizontal rule that crosses the plot in the screenshot
const greyRule: [number, number][] = [[1997, -44.3], [2022.99, -44.3]];

const legendItems = [
  { label: 'Rendement_A04', color: '#FFC000', stroke: 1.4 },
  { label: 'Rendement_A07', color: '#0070C0', stroke: 2.2 },
  { label: 'Rendement_A10', color: '#FF0000', stroke: 2.2 },
];

const mainTitle =
  'ADAM Informe. Evolution historique des performances en euros pour des détentions de 4 ans (A04) à 10 ans (A10) avec les revenus connus distribués';
const subTitle1 = 'Rendement du placement Prime Electronics  en fonction de la date de début pour des durées';
const subTitle2 =
  'entre 4 (A04) et 10 ans (A10). Cotations entre avr. 2008 et juil. 2026. Revenus DISTRIBUES depuis août. 2008.';

const toXY = (pts: [number, number][]) => pts.map(([x, y]) => ({ x, y }));

const hasFont = (name: string) => {
  const ctx = document.createElement('canvas').getContext('2d');
  if (!ctx) return false;
  const sample = '01/01/1997 - 100% Rendement';
  ctx.font = '40px monospace';
  const base = ctx.measureText(sample).width;
  ctx.font = `40px "${name}", monospace`;
  return ctx.measureText(sample).width !== base;
};

const FitText: React.FC<{ text: string; width: number; style: React.CSSProperties }> = ({ text, width, style }) => {
  const ref = useRef<HTMLSpanElement>(null);
  useLayoutEffect(() => {
    const el = ref.current;
    if (!el) return;
    el.style.transform = 'none';
    const w = el.getBoundingClientRect().width;
    if (w > 0) el.style.transform = `scaleX(${width / w})`;
  }, [text, width]);
  return (
    <span
      ref={ref}
      style={{ display: 'inline-block', whiteSpace: 'pre', transformOrigin: 'left center', lineHeight: 1, ...style }}
    >
      {text}
    </span>
  );
};

const CrossIcon: React.FC<{ color: string; stroke: number }> = ({ color, stroke }) => (
  <svg width="10" height="10" viewBox="0 0 10 10" style={{ display: 'block' }}>
    <path d="M5 1.2V8.8M1.2 5H8.8" stroke={color} strokeWidth={stroke} />
  </svg>
);

const abs = (left: number, top: number, width: number, height: number, extra: React.CSSProperties = {}) =>
  ({ position: 'absolute', left, top, width, height, ...extra }) as React.CSSProperties;

const App: React.FC = () => {
  const chartRef = useRef<HTMLCanvasElement>(null);

  useEffect(() => {
    if (!chartRef.current) return;
    const ctx = chartRef.current.getContext('2d');
    if (!ctx) return;

    const narrow = hasFont('Liberation Sans Narrow');
    const tickFont = narrow
      ? { family: '"Liberation Sans Narrow", "Liberation Sans", sans-serif', size: 25 }
      : { family: '"Liberation Sans", sans-serif', size: 21 };

    const crossDataset = (label: string, pts: [number, number][], color: string, width: number, order: number) => ({
      label,
      data: toXY(pts),
      showLine: false,
      pointStyle: 'cross' as const,
      pointRadius: 5.5,
      pointBorderWidth: width,
      pointBorderColor: color,
      pointBackgroundColor: color,
      borderColor: color,
      backgroundColor: color,
      order,
    });

    const lineDataset = (label: string, pts: [number, number][], color: string, width: number, order: number) => ({
      label,
      data: toXY(pts),
      showLine: true,
      pointRadius: 0,
      borderColor: color,
      backgroundColor: color,
      borderWidth: width,
      borderCapStyle: 'butt' as const,
      order,
    });

    const chart = new Chart(ctx, {
      type: 'scatter',
      data: {
        datasets: [
          crossDataset('Rendement_A10', [...rendementA10, ...rendementA10Band], '#FF0000', 2.8, 0),
          lineDataset('Rendement_A10 (0)', rendementA10Flat, '#FF0000', 9, 0),
          lineDataset('0,0%', zeroLevel, '#000000', 5, 1),
          crossDataset('Rendement_A07', [...rendementA07, ...rendementA07Band], '#0070C0', 2.8, 2),
          crossDataset('Rendement_A04', [...rendementA04, ...rendementA04Band], '#FFC000', 1.8, 3),
          lineDataset('rule', greyRule, '#BFBFBF', 2.5, 4),
        ],
      },
      options: {
        animation: false,
        responsive: false,
        devicePixelRatio: 1,
        events: [],
        layout: { padding: { top: 48, right: 60, bottom: 0, left: 0 } },
        plugins: {
          legend: { display: false },
          tooltip: { enabled: false },
          title: { display: false },
        },
        scales: {
          x: {
            type: 'linear',
            min: xMin,
            max: xMax,
            afterBuildTicks: (axis: any) => {
              axis.ticks = xTickYears.map((value) => ({ value }));
            },
            afterFit: (axis: any) => {
              axis.height = 53;
            },
            ticks: {
              callback: (v: any) => `01/01/${v}`,
              color: '#595959',
              font: tickFont,
              padding: 21,
              maxRotation: 0,
              autoSkip: false,
            },
            grid: { color: '#D9D9D9', lineWidth: 2, drawTicks: false },
            border: { display: false },
          },
          y: {
            type: 'linear',
            min: yMin,
            max: yMax,
            afterFit: (axis: any) => {
              axis.width = 96;
            },
            ticks: {
              stepSize: yStep,
              callback: (v: any) => (Number(v) < 0 ? `- ${-Number(v)}%` : `${v}%`),
              color: '#595959',
              font: tickFont,
              padding: 18,
            },
            grid: { color: '#D9D9D9', lineWidth: 2, drawTicks: false },
            border: { display: false },
          },
        },
      },
    });

    return () => {
      chart.destroy();
    };
  }, []);

  const subFont: React.CSSProperties = {
    fontFamily: '"Liberation Sans", Arial, sans-serif',
    fontWeight: 'bold',
    fontSize: 29,
    color: '#595959',
  };

  return (
    <div style={abs(0, 0, 2216, 1102, { background: '#FFFFFF', overflow: 'hidden' })}>
      {/* banner */}
      <div style={abs(0, 0, 2216, 2, { background: '#8C8C8C' })} />
      <div style={abs(0, 2, 2216, 50, { background: '#7EC87E' })} />
      <div style={abs(37, 11, 2100, 36)}>
        <FitText
          text={mainTitle}
          width={2066}
          style={{ fontFamily: '"Liberation Sans", Arial, sans-serif', fontWeight: 'bold', fontSize: 34, color: '#111111' }}
        />
      </div>
      <div style={abs(0, 56, 2216, 2, { background: '#D9D9D9' })} />

      {/* chart */}
      <canvas ref={chartRef} width={2200} height={1032} style={abs(0, 58, 2200, 1032)} />

      {/* chart title box */}
      <div style={abs(452, 58, 1303, 114, { background: '#FFFFFF' })} />
      <div style={abs(551, 92, 1200, 32)}>
        <FitText text={subTitle1} width={1108} style={subFont} />
      </div>
      <div style={abs(459, 130, 1350, 32)}>
        <FitText text={subTitle2} width={1289} style={subFont} />
      </div>

      {/* legend box */}
      <div style={abs(1808, 193, 330, 257, { background: '#FFFFFF' })}>
        {legendItems.map((item, i) => (
          <React.Fragment key={item.label}>
            <div style={abs(58, 32 + i * 63.5 - 5, 10, 10)}>
              <CrossIcon color={item.color} stroke={item.stroke} />
            </div>
            <div
              style={abs(92, 32 + i * 63.5 - 16, 230, 32, {
                fontFamily: '"Liberation Sans", Arial, sans-serif',
                fontSize: 27,
                lineHeight: '32px',
                color: '#595959',
                whiteSpace: 'nowrap',
              })}
            >
              {item.label}
            </div>
          </React.Fragment>
        ))}
        <div style={abs(39, 222, 48, 5, { background: '#000000' })} />
        <div
          style={abs(90, 224 - 16, 120, 32, {
            fontFamily: '"Liberation Sans", Arial, sans-serif',
            fontSize: 27,
            lineHeight: '32px',
            color: '#595959',
          })}
        >
          0,0%
        </div>
      </div>

      {/* frame and selection handles */}
      <div style={abs(2207, 56, 2, 1036, { background: '#D9D9D9' })} />
      <div style={abs(2213, 0, 3, 1102, { background: '#8C8C8C' })} />
      <div style={abs(0, 1090, 2209, 2, { background: '#D9D9D9' })} />
      <div style={abs(0, 1099, 2216, 3, { background: '#7F7F7F' })} />
      <div style={abs(0, 52, 23, 4, { background: '#FFC000' })} />
      <div style={abs(2190, 52, 24, 4, { background: '#FFC000' })} />
      <div style={abs(2209, 52, 5, 18, { background: '#FFC000' })} />
      <div style={abs(2209, 1036, 5, 63, { background: '#FFC000' })} />
      <div style={abs(2191, 1093, 23, 6, { background: '#FFC000' })} />
      <div style={abs(0, 1093, 23, 7, { background: '#FFC000' })} />
    </div>
  );
};

export default App;
